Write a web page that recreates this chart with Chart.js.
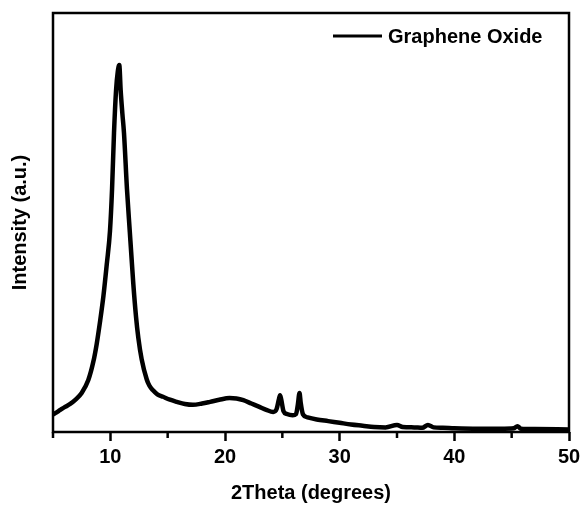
<!DOCTYPE html>
<html>
<head>
<meta charset="utf-8">
<script src="https://cdn.jsdelivr.net/npm/chart.js@4.4.1/dist/chart.umd.min.js"></script>
<style>
  html, body { margin: 0; padding: 0; background: #fff; }
  #wrap { width: 587px; height: 508px; }
</style>
</head>
<body>
<div id="wrap"><canvas id="xrd"></canvas></div>
<script>
// XRD pattern values (2theta in degrees, intensity in arbitrary units 0-100)
let two_theta = [5, 5.2, 5.6, 6.05, 6.5, 6.92, 7.5, 8.08, 8.52, 8.81, 9.1, 9.4, 9.7, 9.97, 10.15, 10.32, 10.5, 10.65, 10.78, 10.9,
  11.05, 11.19, 11.45, 11.7, 11.9, 12.0, 12.24, 12.44, 12.73, 13.17, 13.4, 13.7, 14.1, 14.6, 15.2, 15.8, 16.5, 17.2, 18, 18.7,
  19.5, 20.4, 21, 21.6, 22.3, 23, 23.6, 24.2, 24.5, 24.7, 24.8, 24.9, 25.1, 25.4, 25.9, 26.2, 26.35, 26.5, 26.6, 26.8,
  27.2, 28, 29, 30, 31, 32, 33, 34, 35, 35.5, 36.5, 37.2, 37.7, 38.2, 39, 40, 42, 44, 45.2, 45.5, 45.8, 47, 50];
let intensity = [4.2, 4.5, 5.2, 6.0, 6.7, 7.6, 9.3, 12.4, 16.8, 21, 26.3, 32.5, 40.3, 48, 58, 71.4, 81.6, 86, 87.6, 81.6,
  76, 71.4, 58, 47.7, 39.5, 35.5, 27.5, 22.5, 17.4, 12.6, 11.1, 10.0, 9.0, 8.4, 7.7, 7.2, 6.7, 6.5, 6.8, 7.2,
  7.7, 8.1, 8.0, 7.6, 6.8, 6.0, 5.3, 4.8, 5.5, 7.8, 8.8, 7.8, 5.0, 4.3, 4.0, 4.3, 6.5, 9.3, 7.0, 4.2,
  3.5, 3.0, 2.6, 2.2, 1.8, 1.5, 1.2, 1.1, 1.7, 1.2, 1.1, 1.0, 1.7, 1.1, 1.0, 0.9, 0.8, 0.8, 0.9, 1.4, 0.8, 0.7, 0.6];
let series_name = 'Graphene Oxide';
let x_title = '2Theta (degrees)';
let y_title = 'Intensity (a.u.)';

let font_family = "'Liberation Sans', Arial, sans-serif";

let points = two_theta.map((t, i) => ({ x: t, y: intensity[i] }));

// frame, minor ticks and the legend inside the plot
let framePlugin = {
  id: 'frame',
  afterDraw(chart) {
    let ctx = chart.ctx;
    let a = chart.chartArea;
    let xs = chart.scales.x;
    ctx.save();
    ctx.strokeStyle = '#000';
    ctx.lineWidth = 2.5;
    ctx.strokeRect(a.left, a.top, a.right - a.left, a.bottom - a.top);
    // minor ticks (every 5 that is not a multiple of 10)
    xs.ticks.forEach(t => {
      if (t.value % 10 !== 0) {
        let px = xs.getPixelForValue(t.value);
        ctx.beginPath();
        ctx.moveTo(px, a.bottom);
        ctx.lineTo(px, a.bottom + 6);
        ctx.stroke();
      }
    });
    // legend
    let ly = a.top + 23;
    let lx = a.right - 236;
    ctx.lineWidth = 3;
    ctx.beginPath();
    ctx.moveTo(lx, ly);
    ctx.lineTo(lx + 49, ly);
    ctx.stroke();
    ctx.fillStyle = '#000';
    ctx.font = 'bold 20px ' + font_family;
    ctx.textBaseline = 'middle';
    ctx.textAlign = 'left';
    ctx.fillText(chart.data.datasets[0].label, lx + 55, ly + 1);
    ctx.restore();
  }
};

let ctx = document.getElementById('xrd').getContext('2d');
let xrdChart = new Chart(ctx, {
  type: 'line',
  data: {
    datasets: [
      {
        label: series_name,
        data: points,
        borderColor: '#000',
        borderWidth: 4.5,
        pointRadius: 0,
        cubicInterpolationMode: 'monotone',
        fill: false
      }
    ]
  },
  options: {
    responsive: true,
    maintainAspectRatio: false,
    animation: false,
    layout: { padding: { left: 0, right: 18, top: 13, bottom: 0 } },
    plugins: {
      legend: { display: false },
      tooltip: { enabled: false }
    },
    scales: {
      x: {
        type: 'linear',
        min: 5,
        max: 50,
        border: { display: false },
        grid: {
          drawOnChartArea: false,
          drawTicks: true,
          tickLength: 9,
          tickWidth: 2.5,
          tickColor: c => (c.tick && c.tick.value % 10 === 0) ? '#000' : 'rgba(0,0,0,0)'
        },
        ticks: {
          stepSize: 5,
          autoSkip: false,
          maxRotation: 0,
          padding: 4,
          color: '#000',
          font: { family: font_family, size: 20, weight: 'bold' },
          callback: v => (v % 10 === 0 ? String(v) : '')
        },
        title: {
          display: true,
          text: x_title,
          color: '#000',
          font: { family: font_family, size: 20, weight: 'bold' },
          padding: { top: 0, bottom: 3 }
        },
        afterFit: s => { s.height = 76; }
      },
      y: {
        min: 0,
        max: 100,
        border: { display: false },
        grid: { display: false, drawTicks: false },
        ticks: { display: false },
        title: {
          display: true,
          text: y_title,
          color: '#000',
          font: { family: font_family, size: 20, weight: 'bold' },
          padding: { top: 8, bottom: 0 }
        },
        afterFit: s => { s.width = 53; }
      }
    }
  },
  plugins: [framePlugin]
});
</script>
</body>
</html>
